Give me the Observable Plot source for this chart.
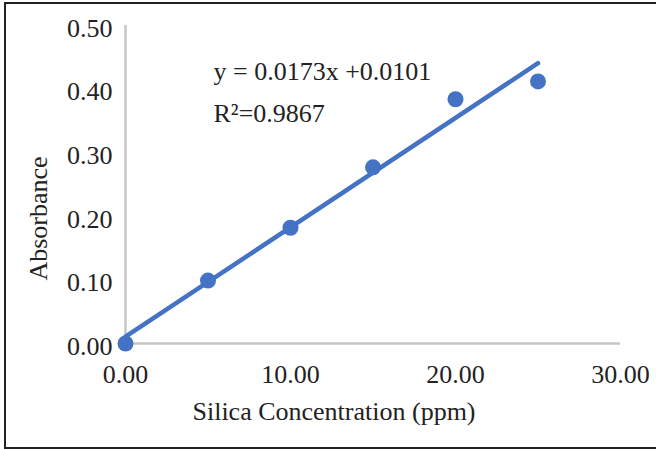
<!DOCTYPE html>
<html>
<head>
<meta charset="utf-8">
<script src="https://cdn.jsdelivr.net/npm/d3@7"></script>
<script src="https://cdn.jsdelivr.net/npm/@observablehq/plot@0.6"></script>
<style>
  html, body { margin: 0; padding: 0; background: #fff; }
  #wrap { position: relative; width: 656px; height: 450px; overflow: hidden; background: #fff; }
  #border { position: absolute; left: 4px; top: 2px; width: 660px; height: 443px; border: 2px solid #222; pointer-events: none; }
</style>
</head>
<body>
<div id="wrap"><div id="border"></div></div>
<script>
// Data
const concentration = [0, 5, 10, 15, 20, 25];          // ppm
const absorbance    = [0, 0.099, 0.182, 0.277, 0.384, 0.412];
const xTicks = [0, 10, 20, 30];
const yTicks = [0, 0.1, 0.2, 0.3, 0.4, 0.5];
const equationText = "y = 0.0173x +0.0101";
const r2Text = "R\u00B2=0.9867";
const xTitle = "Silica Concentration (ppm)";
const yTitle = "Absorbance";

const data = concentration.map((x, i) => ({x, y: absorbance[i]}));
const blue = "#4472C4";
const axisGray = "#c6c6c6";
const ink = "#222";

const chart = Plot.plot({
  width: 656,
  height: 450,
  marginLeft: 125,
  marginRight: 36,
  marginTop: 25,
  marginBottom: 107,
  style: {fontFamily: "'Liberation Serif', 'Times New Roman', serif", fontSize: "26px", color: ink, background: "transparent", overflow: "visible"},
  x: {domain: [0, 30]},
  y: {domain: [0, 0.5]},
  marks: [
    Plot.ruleX([0], {stroke: axisGray, strokeWidth: 2.5}),
    Plot.ruleY([0], {stroke: axisGray, strokeWidth: 2.5}),
    Plot.axisX({ticks: xTicks, tickFormat: d3.format(".2f"), tickSize: 0, tickPadding: 21, label: null, fill: ink}),
    Plot.axisY({ticks: yTicks, tickFormat: d3.format(".2f"), tickSize: 0, tickPadding: 13, dy: 3, label: null, fill: ink}),
    Plot.dot(data, {x: "x", y: "y", r: 8, fill: blue, stroke: "none"}),
    Plot.linearRegressionY(data, {x: "x", y: "y", ci: 0, stroke: blue, strokeWidth: 4.5, strokeLinecap: "round"}),
    Plot.text([equationText], {frameAnchor: "top-left", text: d => d, textAnchor: "start", lineAnchor: "bottom", dx: 88, dy: 54, fill: ink}),
    Plot.text([r2Text], {frameAnchor: "top-left", text: d => d, textAnchor: "start", lineAnchor: "bottom", dx: 88, dy: 96, fill: ink}),
    Plot.text([xTitle], {frameAnchor: "bottom", text: d => d, textAnchor: "middle", lineAnchor: "bottom", dx: -39, dy: 76, fill: ink}),
    Plot.text([yTitle], {frameAnchor: "left", text: d => d, textAnchor: "middle", lineAnchor: "bottom", rotate: -90, dx: -79, dy: 34, fill: ink})
  ]
});
document.getElementById("wrap").insertBefore(chart, document.getElementById("border"));
</script>
</body>
</html>
